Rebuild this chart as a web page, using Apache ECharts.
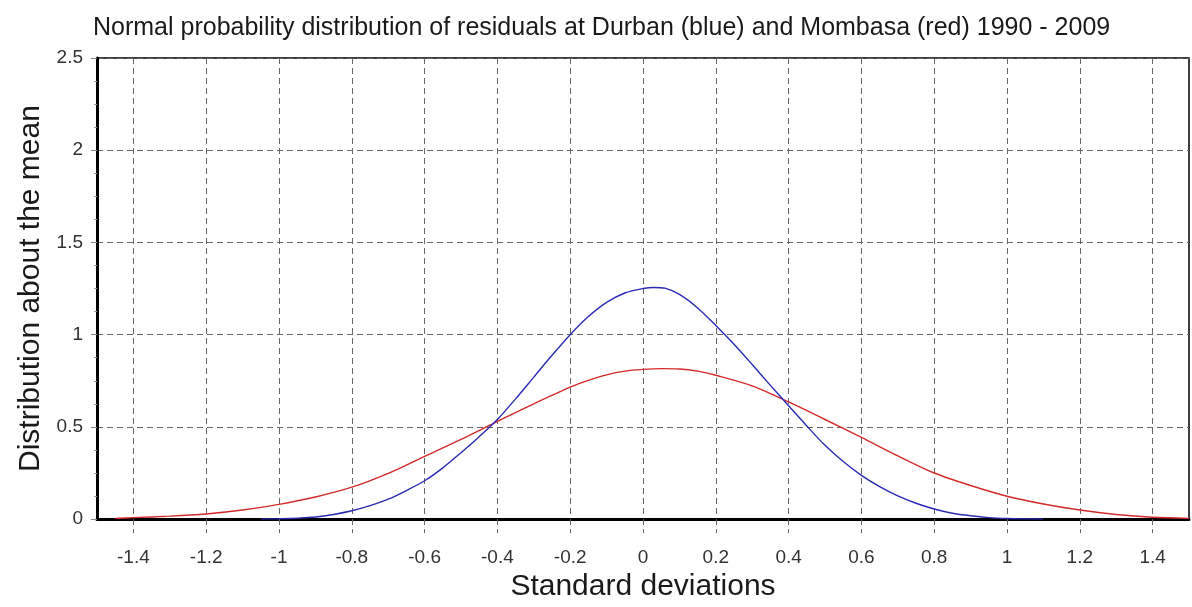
<!DOCTYPE html>
<html>
<head>
<meta charset="utf-8">
<script src="https://cdn.jsdelivr.net/npm/echarts@6/dist/echarts.min.js"></script>
<style>
  html, body { margin: 0; padding: 0; background: #fff; }
  #chart { width: 1192px; height: 607px; }
</style>
</head>
<body>
<div id="chart"></div>
<script>
// Durban residual distribution: [standard deviations, density]
const durban = [
  [-1.05, 0], [-1.0, 0.002], [-0.95, 0.005], [-0.9, 0.011], [-0.85, 0.025],
  [-0.8, 0.045], [-0.75, 0.073], [-0.7, 0.108], [-0.65, 0.155], [-0.6, 0.208],
  [-0.55, 0.278], [-0.5, 0.36], [-0.45, 0.447], [-0.4, 0.54], [-0.35, 0.652],
  [-0.3, 0.77], [-0.25, 0.888], [-0.2, 1.0], [-0.15, 1.098], [-0.1, 1.175],
  [-0.05, 1.226], [0, 1.25], [0.03, 1.256], [0.06, 1.252], [0.1, 1.218],
  [0.15, 1.145], [0.2, 1.05], [0.25, 0.948], [0.3, 0.838], [0.35, 0.725],
  [0.4, 0.615], [0.45, 0.505], [0.5, 0.40], [0.55, 0.312], [0.6, 0.237],
  [0.65, 0.176], [0.7, 0.126], [0.75, 0.086], [0.8, 0.055], [0.85, 0.032],
  [0.9, 0.018], [0.95, 0.008], [1.0, 0.003], [1.05, 0.001], [1.1, 0]
];

// Mombasa residual distribution: [standard deviations, density]
const mombasa = [
  [-1.45, 0.004], [-1.4, 0.008], [-1.3, 0.016], [-1.2, 0.028], [-1.1, 0.049],
  [-1.0, 0.08], [-0.9, 0.12], [-0.8, 0.173], [-0.7, 0.248], [-0.6, 0.34],
  [-0.5, 0.432], [-0.4, 0.53], [-0.3, 0.625], [-0.2, 0.715], [-0.15, 0.752],
  [-0.1, 0.782], [-0.05, 0.802], [0, 0.812], [0.05, 0.816], [0.1, 0.814],
  [0.15, 0.802], [0.2, 0.78], [0.3, 0.722], [0.4, 0.635], [0.5, 0.54],
  [0.6, 0.443], [0.7, 0.343], [0.8, 0.25], [0.9, 0.182], [1.0, 0.124],
  [1.1, 0.082], [1.2, 0.049], [1.3, 0.025], [1.4, 0.01], [1.5, 0.004]
];

// Labelled positions along the horizontal axis
const xTicks = [-1.4, -1.2, -1, -0.8, -0.6, -0.4, -0.2, 0, 0.2, 0.4, 0.6, 0.8, 1, 1.2, 1.4];

const titleText = 'Normal probability distribution of residuals at Durban (blue) and Mombasa (red) 1990 - 2009';
const xName = 'Standard deviations';
const yName = 'Distribution about the mean';

const font = 'Liberation Sans, Arial, sans-serif';
const gridDash = { color: '#666', width: 1, type: [6, 4] };

const chart = echarts.init(document.getElementById('chart'), null, { renderer: 'canvas' });

chart.setOption({
  backgroundColor: '#ffffff',
  animation: false,
  title: {
    text: titleText,
    left: 88,
    top: 11,
    textStyle: { fontFamily: font, fontSize: 25, fontWeight: 'normal', color: '#1a1a1a' }
  },
  grid: {
    left: 97, right: 3, top: 58, bottom: 87,
    show: true, borderColor: '#000', borderWidth: 1.5, backgroundColor: '#fff'
  },
  xAxis: {
    type: 'value',
    min: -1.5, max: 1.5,
    name: xName,
    nameLocation: 'middle',
    nameGap: 50,
    nameTextStyle: { fontFamily: font, fontSize: 30, color: '#1a1a1a' },
    axisLine: { onZero: false, lineStyle: { color: '#000', width: 3 } },
    axisTick: { show: true, customValues: xTicks, length: 14, lineStyle: gridDash },
    axisLabel: {
      customValues: xTicks, margin: 29,
      fontFamily: font, fontSize: 19, color: '#333'
    },
    splitLine: { show: true, lineStyle: gridDash }
  },
  yAxis: {
    type: 'value',
    min: 0, max: 2.5, interval: 0.5,
    name: yName,
    nameLocation: 'middle',
    nameGap: 48,
    nameRotate: 90,
    nameTextStyle: { fontFamily: font, fontSize: 30, color: '#1a1a1a' },
    axisLine: { show: true, onZero: false, lineStyle: { color: '#000', width: 3 } },
    axisTick: { show: true, length: 6, lineStyle: { color: '#888', width: 1 } },
    minorTick: { show: true, splitNumber: 4, length: 3, lineStyle: { color: '#999', width: 1 } },
    axisLabel: {
      margin: 14, fontFamily: font, fontSize: 19, color: '#333',
      formatter: v => String(v)
    },
    splitLine: { show: true, lineStyle: gridDash }
  },
  series: [
    {
      name: 'Durban',
      type: 'line',
      data: durban,
      smooth: 0.3,
      showSymbol: false,
      lineStyle: { color: '#2a2ab4', width: 1.4 },
      z: 3
    },
    {
      name: 'Mombasa',
      type: 'line',
      data: mombasa,
      smooth: 0.3,
      showSymbol: false,
      lineStyle: { color: '#d42a2a', width: 1.4 },
      z: 2
    }
  ]
});
</script>
</body>
</html>
